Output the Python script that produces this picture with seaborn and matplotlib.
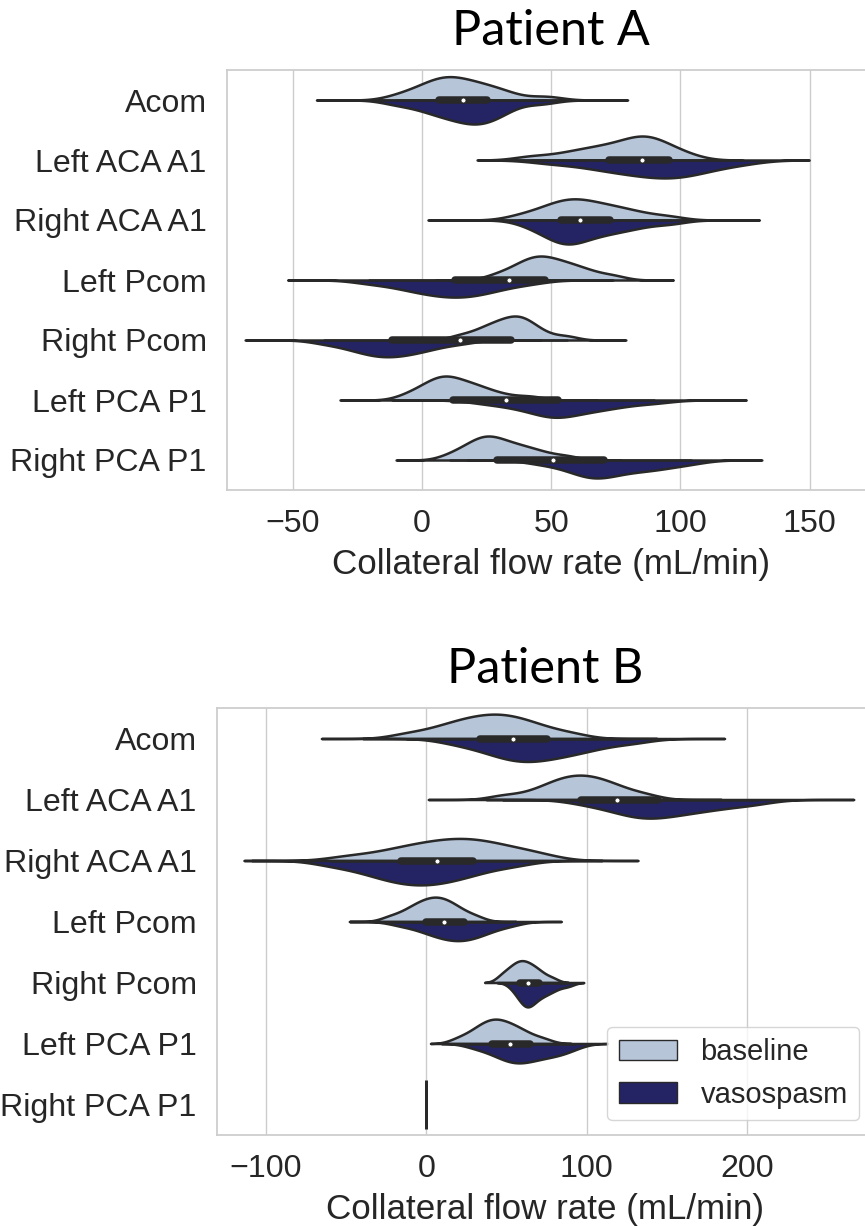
import numpy as np
import pandas as pd
import matplotlib
matplotlib.use("Agg")
import matplotlib.pyplot as plt
import seaborn as sns
from matplotlib.patches import Patch

# ---------------------------------------------------------------- data
vessels = ["Acom", "Left ACA A1", "Right ACA A1", "Left Pcom",
           "Right Pcom", "Left PCA P1", "Right PCA P1"]
conditions = ["baseline", "vasospasm"]

# Simulated collateral flow rates (mL/min), one list per vessel, in vessel order
patient_a_baseline = [
    [-9.2, -2.7, 1.0, 3.8, 6.1, 8.2, 10.2, 12.1, 14.3, 16.8, 19.5, 22.3, 25.5, 29.3, 34.2, 48.0],
    [42.4, 53.9, 60.4, 65.3, 69.5, 73.2, 76.7, 80.1, 82.6, 84.4, 86.2, 88.2, 90.4, 93.0, 96.5, 102.6],
    [37.6, 44.7, 48.7, 51.7, 54.3, 56.6, 58.7, 60.8, 63.2, 66.1, 69.0, 72.2, 75.8, 80.0, 85.5, 95.3],
    [28.4, 34.2, 37.4, 39.9, 41.9, 43.8, 45.5, 47.2, 49.1, 51.3, 53.6, 56.1, 58.9, 62.1, 66.5, 74.1],
    [14.1, 20.2, 23.7, 26.3, 28.5, 30.5, 32.3, 34.1, 35.7, 37.0, 38.5, 40.0, 41.7, 43.7, 48.0, 56.0],
    [-5.8, -0.8, 2.1, 4.3, 6.1, 7.8, 9.3, 10.8, 12.6, 14.9, 17.3, 19.8, 22.6, 25.9, 32.0, 42.0],
    [10.9, 15.9, 18.8, 21.0, 22.8, 24.5, 26.0, 27.5, 29.4, 31.7, 34.2, 36.8, 39.8, 43.3, 47.8, 56.0],
]
patient_a_vasospasm = [
    [-10.0, -1.7, 3.1, 6.6, 9.6, 12.4, 14.9, 17.3, 19.4, 21.3, 23.2, 25.3, 27.7, 30.4, 34.1, 46.0],
    [49.6, 61.7, 68.6, 73.8, 78.2, 82.1, 85.8, 89.4, 92.5, 95.3, 98.2, 101.4, 104.8, 109.0, 114.4, 124.1],
    [41.4, 46.8, 49.9, 52.2, 54.2, 56.0, 57.6, 59.2, 61.5, 64.6, 67.7, 71.1, 74.9, 79.4, 85.3, 95.8],
    [-20.4, -10.9, -5.6, -1.5, 1.9, 5.0, 7.9, 10.6, 13.3, 15.8, 18.5, 21.3, 24.5, 28.3, 33.2, 42.0],
    [-37.8, -30.4, -26.1, -22.9, -20.2, -17.8, -15.6, -13.4, -11.1, -8.8, -6.3, -3.7, -0.7, 2.8, 7.3, 15.5],
    [24.0, 33.0, 38.5, 42.5, 47.2, 49.0, 50.6, 52.2, 54.5, 57.7, 61.0, 64.5, 68.4, 73.0, 79.1, 89.9],
    [45.0, 53.5, 58.5, 61.5, 64.0, 66.2, 68.0, 69.8, 72.4, 75.7, 79.2, 82.9, 87.1, 91.0, 96.0, 104.0],
]
patient_b_baseline = [
    [-12.3, 3.3, 12.1, 18.8, 24.4, 29.5, 34.2, 38.8, 43.1, 47.3, 51.7, 56.4, 61.6, 67.9, 76.1, 90.6],
    [48.0, 64.0, 73.1, 78.3, 82.7, 86.6, 90.3, 93.9, 97.3, 100.9, 104.6, 108.5, 112.9, 118.1, 125.0, 137.1],
    [-49.1, -29.5, -18.4, -9.9, -2.8, 3.5, 9.5, 15.2, 20.5, 25.6, 30.9, 36.5, 42.8, 50.3, 60.2, 72.0],
    [-23.0, -14.8, -10.2, -6.6, -3.7, -1.0, 1.4, 3.8, 6.1, 8.3, 10.6, 13.1, 15.9, 19.1, 23.5, 31.1],
    [46.0, 49.2, 51.8, 53.8, 55.5, 57.0, 58.5, 59.8, 61.3, 62.8, 64.4, 66.2, 68.1, 70.4, 73.4, 78.8],
    [19.7, 27.0, 31.1, 34.2, 36.8, 39.2, 41.4, 43.5, 45.7, 48.1, 50.7, 53.4, 56.4, 60.0, 64.7, 73.0],
    [0, 0, 0, 0, 0, 0, 0, 0],
]
patient_b_vasospasm = [
    [17.6, 32.1, 40.2, 46.4, 51.7, 56.4, 60.7, 64.9, 69.6, 74.8, 80.3, 86.1, 92.6, 100.3, 110.5, 128.5],
    [97.5, 111.4, 119.2, 125.2, 130.2, 134.8, 139.0, 143.0, 147.8, 153.5, 159.4, 165.7, 172.8, 181.2, 192.2, 206.0],
    [-58.9, -42.5, -33.3, -26.3, -20.4, -15.1, -10.1, -5.3, -0.6, 4.3, 9.5, 15.0, 21.1, 28.3, 37.9, 54.8],
    [-16.4, -6.0, -0.2, 4.3, 8.0, 11.4, 14.5, 17.5, 20.4, 23.3, 26.2, 29.4, 33.0, 37.2, 42.7, 52.5],
    [54.0, 57.3, 59.1, 60.5, 61.7, 62.8, 63.8, 64.7, 66.2, 68.1, 70.1, 72.3, 74.7, 77.6, 81.4, 88.1],
    [30.1, 39.0, 44.0, 47.9, 51.1, 54.0, 56.6, 59.2, 62.1, 65.4, 68.7, 72.4, 76.4, 81.2, 85.0, 92.0],
    [0, 0, 0, 0, 0, 0, 0, 0],
]

xticks_a = [-50, 0, 50, 100, 150]
xticks_b = [-100, 0, 100, 200]

# ---------------------------------------------------------------- style
sns.set_theme(style="whitegrid", context="notebook", font_scale=2.1)
plt.rcParams["font.family"] = ["Liberation Sans", "DejaVu Sans"]

palette = {"baseline": "lightsteelblue", "vasospasm": "midnightblue"}
EDGE = "#292929"
LW = 1.8

# how far each violin's density tail is carried past the data (in bandwidths)
tail_cut_a = [5, 3, 5.3, 4.4, 5.0, 4.8, 4]
tail_cut_b = [4.5, 4.7, 4.2, 4, 2.5, 2.8, 2]


def long_table(base, vaso):
    frames = []
    for name, b, v in zip(vessels, base, vaso):
        frames.append(pd.DataFrame({"vessel": name, "condition": "baseline", "flow": b}))
        frames.append(pd.DataFrame({"vessel": name, "condition": "vasospasm", "flow": v}))
    return pd.concat(frames, ignore_index=True)


def draw_panel(ax, base, vaso, title, xlim, xticks, cuts):
    df = long_table(base, vaso)
    for i, name in enumerate(vessels):
        sub = df[df["vessel"] == name]
        flow = sub["flow"].to_numpy(dtype=float)
        if np.ptp(flow) == 0:
            # no spread at all: a single flat line across the slot
            ax.vlines(flow[0], i - 0.4, i + 0.4, color=EDGE, lw=LW * 1.2, zorder=2)
            continue
        # each vessel normalised on its own so the wider half fills the slot
        sns.violinplot(
            data=sub, x="flow", y="vessel", hue="condition",
            order=vessels, hue_order=conditions, orient="y",
            split=True, inner=None, palette=palette,
            density_norm="area", common_norm=True,
            cut=cuts[i], bw_adjust=0.75, width=0.8, gap=0,
            linewidth=LW, linecolor=EDGE, legend=False, ax=ax,
        )
        # pooled box summary drawn on the split line
        q1, med, q3 = np.percentile(flow, [25, 50, 75])
        iqr = q3 - q1
        lo = flow[flow >= q1 - 1.5 * iqr].min()
        hi = flow[flow <= q3 + 1.5 * iqr].max()
        ax.plot([lo, hi], [i, i], color=EDGE, lw=LW, zorder=3)
        ax.plot([q1, q3], [i, i], color=EDGE, lw=LW * 3,
                solid_capstyle="round", zorder=3)
        ax.scatter([med], [i], s=(LW * 2) ** 2, color="white",
                   edgecolor=EDGE, linewidth=0.6, zorder=4)

    ax.set_xlim(*xlim)
    ax.set_ylim(len(vessels) - 0.5, -0.5)
    ax.set_xticks(xticks)
    ax.set_yticks(range(len(vessels)))
    ax.set_yticklabels(vessels)
    ax.yaxis.grid(False)
    ax.tick_params(axis="y", pad=plt.rcParams["ytick.major.pad"] + 5)
    ax.tick_params(axis="x", pad=plt.rcParams["xtick.major.pad"] + 4)
    ax.set_ylabel("")
    ax.set_xlabel("Collateral flow rate (mL/min)", labelpad=7)
    ax.set_title(title, family=["Lato", "DejaVu Sans"], fontsize=35,
                 color="black", pad=18)


fig = plt.figure(figsize=(8.65, 12.26), dpi=100)
W, H = 865.0, 1226.0
ax_a = fig.add_axes([227 / W, 1 - 490 / H, (874 - 227) / W, 420 / H])
ax_b = fig.add_axes([217 / W, 1 - 1135 / H, (874 - 217) / W, 427 / H])

draw_panel(ax_a, patient_a_baseline, patient_a_vasospasm, "Patient A",
           (-75.4, 174.9), xticks_a, tail_cut_a)
draw_panel(ax_b, patient_b_baseline, patient_b_vasospasm, "Patient B",
           (-130.5, 279.0), xticks_b, tail_cut_b)

handles = [Patch(facecolor=sns.desaturate(palette[c], 0.75), edgecolor=EDGE,
                 linewidth=1.0, label=c) for c in conditions]
ax_b.legend(handles=handles, loc="lower right", fontsize=21)

fig.savefig("out.png", dpi=100)
